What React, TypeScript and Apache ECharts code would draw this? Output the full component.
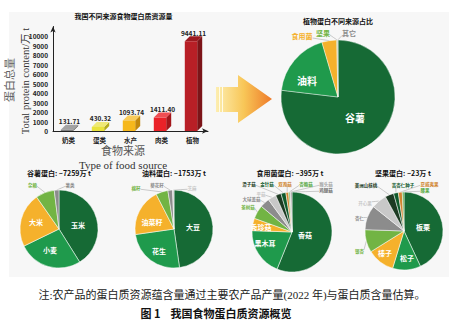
import React, { useEffect, useRef } from 'react';
import * as echarts from 'echarts';

// ---------- data ----------
const barCategories = ['奶类', '蛋类', '水产', '肉类', '植物'];
const barValues = [131.71, 430.32, 1093.74, 1411.4, 9441.11];

const plantNames = ['谷薯', '油料', '食用菌', '坚果', '其它'];
const plantValues = [7259, 1753, 395, 23, 11.11];

const grainNames = ['玉米', '小麦', '大米', '杂粮', '薯类'];
const grainValues = [2984, 1936, 1633, 565, 141];

const oilNames = ['大豆', '花生', '油菜籽', '棉籽', '葵花籽', '芝麻'];
const oilValues = [837, 438, 346, 88, 34, 10];

const fungiNames = ['香菇', '黑木耳', '秀珍菇', '茶树菇', '大球盖菇', '平菇', '滑子菇', '金针菇', '双孢菇', '杏鲍菇', '猴头菇', '鸡腿菇'];
const fungiValues = [221.6, 76.8, 19.8, 21.9, 15.4, 13.2, 8.8, 7.7, 4.4, 2.2, 1.6, 1.6];

const nutNames = ['板栗', '松子', '榛子', '银杏', '杏仁', '开心果', '美洲山核桃', '苦杏仁种子', '夏威夷果', '腰果'];
const nutValues = [9.9, 2.68, 2.62, 2.17, 2.33, 1.47, 0.83, 0.45, 0.38, 0.16];

const pieTitles = ['谷薯蛋白: ~7259万 t', '油料蛋白: ~1753万 t', '食用菌蛋白: ~395万 t', '坚果蛋白: ~23万 t'];

// ---------- styles ----------
const DG = '#166a35';
const MG = '#1f9a4c';
const YL = '#f5b12c';
const LG = '#72b444';
const GR = '#8c8c8c';
const LGR = '#c8c8c8';
const DK = '#1c3a22';
const DG2 = '#0f5a2b';
const OR = '#d0842f';
const GN = '#55a83f';

const barFront = ['#808080', '#e9e33c', '#f6b81c', '#ea2228', '#b81f26'];
const barSide = ['#555555', '#b3ab1e', '#c2890e', '#a3171b', '#7c1418'];
const barTop = ['#a3a3a3', '#efe976', '#f8cb5a', '#ef4e52', '#9c1a20'];

const plantColors = [DG, MG, YL, LG, GR];
const grainColors = [DG, MG, YL, LG, GR];
const oilColors = [DG, MG, YL, LG, GR, LGR];
const fungiColors = [DG, MG, YL, LG, GR, LGR, DK, DG2, OR, GN, '#a6a6a6', '#6e6e6e'];
const nutColors = [DG, MG, YL, LG, GR, LGR, DK, DG2, OR, GN];

const insideSet = new Set(['谷薯', '油料', '玉米', '小麦', '大米', '大豆', '花生', '油菜籽', '香菇', '黑木耳', '秀珍菇', '板栗', '松子', '榛子']);

const labelPos: Record<string, number[]> = {
  谷薯: [355, 117], 油料: [307, 80], 食用菌: [302, 35.5], 坚果: [323, 32.5], 其它: [349, 33],
  玉米: [78, 225], 小麦: [50, 250], 大米: [36, 222], 杂粮: [32.5, 185], 薯类: [70, 185],
  大豆: [193, 227], 花生: [159, 251], 油菜籽: [152, 222], 棉籽: [136, 188], 葵花籽: [157, 185], 芝麻: [192, 188],
  香菇: [305, 235], 黑木耳: [265, 243], 秀珍菇: [261, 227], 茶树菇: [248, 207], 大球盖菇: [251.5, 199], 平菇: [261, 194],
  滑子菇: [249, 184], 金针菇: [267, 184], 双孢菇: [285, 184], 杏鲍菇: [306, 184], 猴头菇: [326, 184], 鸡腿菇: [326, 190],
  板栗: [423, 227], 松子: [407, 258], 榛子: [385, 253], 银杏: [359.5, 251], 杏仁: [359.5, 218], 开心果: [365, 203],
  美洲山核桃: [366, 185], 苦杏仁种子: [403, 185], 夏威夷果: [429.5, 184], 腰果: [425, 190],
};

const FONT = "'Noto Sans CJK SC', 'Noto Sans', sans-serif";
const SERIF = "'Liberation Serif', 'DejaVu Serif', 'Noto Sans CJK SC', serif";

function makeLayout(names: string[]) {
  return (p: any) => {
    const q = labelPos[names[p.dataIndex]];
    if (!q) return {};
    const res: any = { x: q[0], y: q[1], align: 'center', verticalAlign: 'middle' };
    const pts = p.labelLinePoints;
    if (pts && pts.length && !insideSet.has(names[p.dataIndex])) {
      const w = p.labelRect.width;
      const h = p.labelRect.height;
      const p0 = pts[0];
      const ex = Math.min(Math.max(p0[0], q[0] - w / 2), q[0] + w / 2);
      const ey = Math.min(Math.max(p0[1], q[1] - h / 2 + 1), q[1] + h / 2 - 1);
      res.labelLinePoints = [p0, [(p0[0] + ex) / 2, (p0[1] + ey) / 2], [ex, ey]];
    }
    return res;
  };
}

function buildPie(
  names: string[], values: number[], colors: string[], center: number[], radius: number,
  inSize: number, outSize: number, border: number,
) {
  return {
    type: 'pie',
    center,
    radius,
    startAngle: 90,
    clockwise: true,
    avoidLabelOverlap: false,
    itemStyle: { borderColor: '#ffffff', borderWidth: border },
    labelLine: { show: true, length: 4, length2: 4, lineStyle: { color: '#9a9a9a', width: 0.5 } },
    labelLayout: makeLayout(names),
    data: names.map((n, i) => {
      const inside = insideSet.has(n);
      return {
        name: n,
        value: values[i],
        itemStyle: { color: colors[i] },
        label: inside
          ? { show: true, position: 'inside', color: '#ffffff', fontSize: inSize, fontWeight: 'bold', fontFamily: FONT }
          : { show: true, position: 'outside', color: colors[i], fontSize: outSize, fontWeight: 'bold', fontFamily: FONT },
        labelLine: { show: !inside },
      };
    }),
  };
}

export default function App() {
  const ref = useRef<HTMLDivElement>(null);
  useEffect(() => {
    document.body.style.margin = '0';
    if (!ref.current) return;
    const chart = echarts.init(ref.current, null, { renderer: 'svg', width: 464, height: 324 });

    const barData = barValues.map((v, i) => [i, v]);

    const option: any = {
      animation: false,
      backgroundColor: '#ffffff',
      textStyle: { fontFamily: FONT },
      grid: { left: 53, top: 26.5, width: 155, height: 104.5, containLabel: false },
      xAxis: {
        type: 'category',
        data: barCategories,
        axisLine: { show: true, symbol: ['none', 'arrow'], symbolSize: [4, 6], lineStyle: { color: '#222', width: 1 } },
        axisTick: { show: false },
        axisLabel: { color: '#222', fontSize: 6.5, fontWeight: 'bold', margin: 6, fontFamily: FONT },
      },
      yAxis: {
        type: 'value',
        min: 0,
        max: 11000,
        interval: 1000,
        axisLine: { show: true, symbol: ['none', 'arrow'], symbolSize: [4, 6], lineStyle: { color: '#222', width: 1 } },
        axisTick: { show: false },
        splitLine: { show: false },
        axisLabel: {
          color: '#222', fontSize: 6.5, fontWeight: 'bold', margin: 5, fontFamily: FONT,
          formatter: (v: number) => (v > 10000 ? '' : String(v)),
        },
      },
      graphic: [
        { type: 'rect', z: -10, shape: { x: 9, y: 12, width: 440, height: 265 }, style: { fill: '#f7f7f7' } },
        {
          type: 'polygon', z: 1,
          shape: { points: [[216, 87], [238, 87], [238, 75], [272, 99], [238, 123], [238, 112], [216, 112]] },
          style: {
            fill: new echarts.graphic.LinearGradient(0, 0, 1, 0, [
              { offset: 0, color: '#fdeeb0' },
              { offset: 0.5, color: '#f8c657' },
              { offset: 1, color: '#ee7a2a' },
            ]),
          },
        },
        { type: 'rect', z: 2, shape: { x: 219, y: 87, width: 1, height: 25 }, style: { fill: '#fffbe8' } },
        { type: 'rect', z: 2, shape: { x: 222, y: 87, width: 1, height: 25 }, style: { fill: '#fffbe8' } },
        { type: 'text', x: 123.5, y: 16, style: { text: '我国不同来源食物蛋白质资源量', font: `bold 7px ${FONT}`, fill: '#111', align: 'center', verticalAlign: 'middle' } },
        { type: 'text', x: 123, y: 151, style: { text: '食物来源', font: `11px ${SERIF}`, fill: '#555', align: 'center', verticalAlign: 'middle' } },
        { type: 'text', x: 123, y: 164.5, style: { text: 'Type of food source', font: `11px ${SERIF}`, fill: '#333', align: 'center', verticalAlign: 'middle' } },
        { type: 'text', x: 10, y: 80, rotation: Math.PI / 2, style: { text: '蛋白总量', font: `11px ${SERIF}`, fill: '#666', align: 'center', verticalAlign: 'middle' } },
        { type: 'text', x: 25, y: 81, rotation: Math.PI / 2, style: { text: 'Total protein content/万 t', font: `10.5px ${SERIF}`, fill: '#333', align: 'center', verticalAlign: 'middle' } },
        { type: 'text', x: 338, y: 21, style: { text: '植物蛋白不同来源占比', font: `bold 7px ${FONT}`, fill: '#111', align: 'center', verticalAlign: 'middle' } },
        { type: 'text', x: 59, y: 173, style: { text: pieTitles[0], font: `bold 7px ${FONT}`, fill: '#111', align: 'center', verticalAlign: 'middle' } },
        { type: 'text', x: 174, y: 173, style: { text: pieTitles[1], font: `bold 7px ${FONT}`, fill: '#111', align: 'center', verticalAlign: 'middle' } },
        { type: 'text', x: 290, y: 173, style: { text: pieTitles[2], font: `bold 7px ${FONT}`, fill: '#111', align: 'center', verticalAlign: 'middle' } },
        { type: 'text', x: 403, y: 173, style: { text: pieTitles[3], font: `bold 7px ${FONT}`, fill: '#111', align: 'center', verticalAlign: 'middle' } },
        { type: 'text', x: 232, y: 295, style: { text: '注:农产品的蛋白质资源蕴含量通过主要农产品产量(2022 年)与蛋白质含量估算。', font: `11px ${SERIF}`, fill: '#222', align: 'center', verticalAlign: 'middle' } },
        { type: 'text', x: 216, y: 313, style: { text: '图 1    我国食物蛋白质资源概览', font: `bold 11px ${FONT}`, fill: '#111', align: 'center', verticalAlign: 'middle' } },
      ],
      series: [
        {
          type: 'custom',
          coordinateSystem: 'cartesian2d',
          data: barData,
          encode: { x: 0, y: 1 },
          renderItem: (params: any, api: any) => {
            const i = api.value(0);
            const v = api.value(1);
            const top = api.coord([i, v]);
            const base = api.coord([i, 0]);
            const cx = top[0] - 1.5;
            const hw = 6.2;
            const d = 5;
            const x0 = cx - hw;
            const x1 = cx + hw;
            const y0 = top[1];
            const yb = base[1];
            return {
              type: 'group',
              children: [
                { type: 'polygon', shape: { points: [[x1, y0], [x1 + d, y0 - d], [x1 + d, yb - d], [x1, yb]] }, style: { fill: barSide[i] } },
                { type: 'polygon', shape: { points: [[x0, y0], [x0 + d, y0 - d], [x1 + d, y0 - d], [x1, y0]] }, style: { fill: barTop[i] } },
                { type: 'rect', shape: { x: x0, y: y0, width: hw * 2, height: Math.max(yb - y0, 0) }, style: { fill: barFront[i] } },
                {
                  type: 'text', x: cx + d / 2, y: y0 - d - 0.5,
                  style: { text: barValues[i].toFixed(2), fill: '#222', font: `bold 6.5px ${FONT}`, align: 'center', verticalAlign: 'bottom' },
                },
              ],
            };
          },
          z: 3,
        },
        buildPie(plantNames, plantValues, plantColors, [338, 97], 57, 10, 7, 0.4),
        buildPie(grainNames, grainValues, grainColors, [59, 229], 39, 7, 4.5, 0.5),
        buildPie(oilNames, oilValues, oilColors, [174, 229], 39, 7, 4.5, 0.5),
        buildPie(fungiNames, fungiValues, fungiColors, [292, 232], 40, 7, 4.5, 0.5),
        buildPie(nutNames, nutValues, nutColors, [404, 231], 39, 7, 4.5, 0.5),
      ],
    };
    chart.setOption(option);
    return () => chart.dispose();
  }, []);
  return <div ref={ref} style={{ width: 464, height: 324, position: 'absolute', left: 0, top: 0 }} />;
}
